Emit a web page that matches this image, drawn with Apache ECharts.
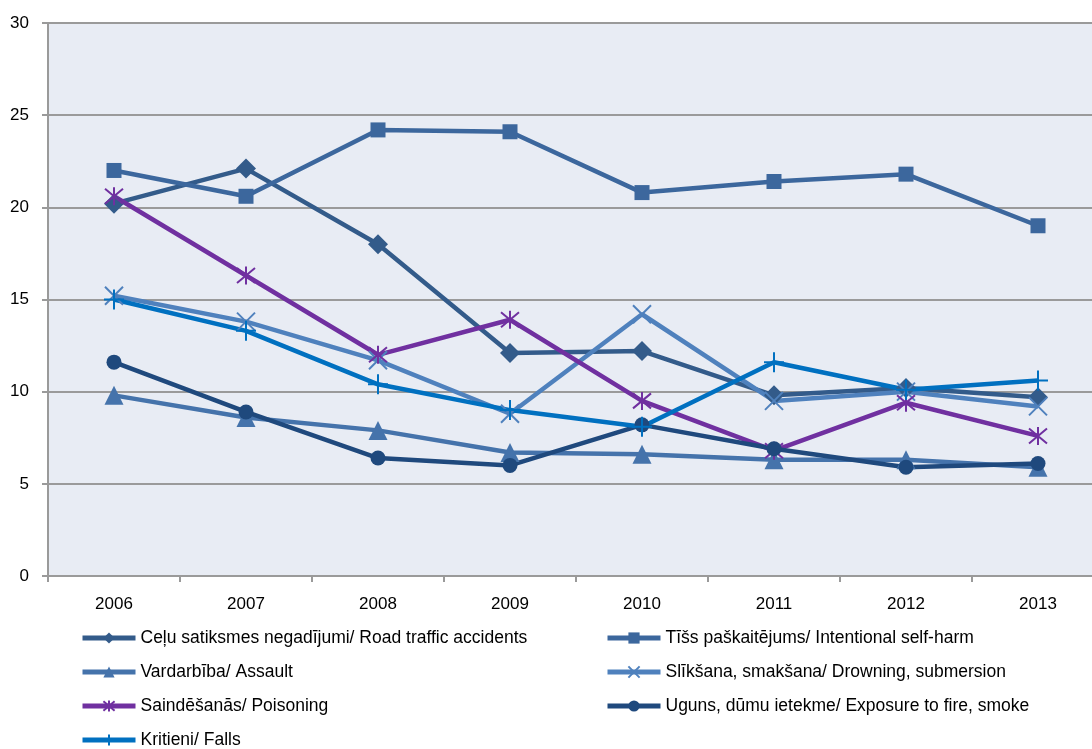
<!DOCTYPE html>
<html>
<head>
<meta charset="utf-8">
<script src="https://cdn.jsdelivr.net/npm/echarts@6/dist/echarts.min.js"></script>
<style>
  html, body { margin: 0; padding: 0; background: #fff; }
  #chart { width: 1092px; height: 749px; }
</style>
</head>
<body>
<div id="chart"></div>
<script>
const years = ['2006', '2007', '2008', '2009', '2010', '2011', '2012', '2013'];

const roadTraffic = [20.2, 22.1, 18.0, 12.1, 12.2, 9.8, 10.2, 9.7];
const selfHarm    = [22.0, 20.6, 24.2, 24.1, 20.8, 21.4, 21.8, 19.0];
const assault     = [9.8, 8.6, 7.9, 6.7, 6.6, 6.3, 6.3, 5.9];
const drowning    = [15.2, 13.8, 11.7, 8.8, 14.2, 9.5, 10.0, 9.2];
const poisoning   = [20.6, 16.3, 12.0, 13.9, 9.5, 6.8, 9.4, 7.6];
const fire        = [11.6, 8.9, 6.4, 6.0, 8.2, 6.9, 5.9, 6.1];
const falls       = [15.0, 13.3, 10.4, 9.0, 8.1, 11.6, 10.1, 10.6];

const names = [
  'Ceļu satiksmes negadījumi/ Road traffic accidents',
  'Tīšs paškaitējums/ Intentional self-harm',
  'Vardarbība/ Assault',
  'Slīkšana, smakšana/ Drowning, submersion',
  'Saindēšanās/ Poisoning',
  'Uguns, dūmu ietekme/ Exposure to fire, smoke',
  'Kritieni/ Falls'
];

const crossPath = 'path://M0,0 L10,10 M10,0 L0,10';
const starPath = 'path://M0,0 L10,10 M10,0 L0,10 M5,-1 L5,11';
const plusPath = 'path://M5,0 L5,10 M0,5 L10,5';

function mk(name, data, color, symbol, size, stroked) {
  return {
    name: name,
    type: 'line',
    data: data,
    symbol: symbol,
    symbolSize: size,
    showAllSymbol: true,
    lineStyle: { color: color, width: 4.5 },
    itemStyle: stroked
      ? { color: color, borderColor: color, borderWidth: 2 }
      : { color: color },
    emphasis: { disabled: true }
  };
}

const chart = echarts.init(document.getElementById('chart'));
const legendText = { fontFamily: 'Liberation Sans, Arial, sans-serif', fontSize: 17.5, color: '#000' };
const legendBase = {
  orient: 'vertical', top: 629, height: 150, padding: 0,
  itemWidth: 53, itemHeight: 14, itemGap: 16,
  lineStyle: { width: 5 },
  textStyle: legendText
};

chart.setOption({
  animation: false,
  textStyle: { fontFamily: 'Liberation Sans, Arial, sans-serif' },
  grid: { left: 48, top: 23, width: 1056, height: 553, show: true, backgroundColor: '#e8ecf4', borderWidth: 0, outerBoundsMode: 'none' },
  legend: [
    Object.assign({}, legendBase, { left: 80, data: [names[0], names[2], names[4], names[6]] }),
    Object.assign({}, legendBase, { left: 605, data: [names[1], names[3], names[5]] })
  ],
  xAxis: {
    type: 'category',
    data: years,
    boundaryGap: true,
    axisLine: { lineStyle: { color: '#9a9a9a', width: 2 } },
    axisTick: { show: true, length: 6, lineStyle: { color: '#9a9a9a', width: 2 } },
    axisLabel: { fontSize: 17, color: '#000', margin: 20 }
  },
  yAxis: {
    type: 'value',
    min: 0, max: 30, interval: 5,
    axisLine: { show: true, lineStyle: { color: '#9a9a9a', width: 2 } },
    axisTick: { show: true, length: 6, lineStyle: { color: '#9a9a9a', width: 2 } },
    splitLine: { lineStyle: { color: '#9a9a9a', width: 2 } },
    axisLabel: { fontSize: 17, color: '#000', margin: 19 }
  },
  series: [
    mk(names[0], roadTraffic, '#335b8a', 'diamond', 20, false),
    mk(names[1], selfHarm, '#3c679d', 'rect', 15, false),
    mk(names[2], assault, '#4573ab', 'triangle', 19, false),
    mk(names[3], drowning, '#4f81bd', crossPath, 18, true),
    mk(names[4], poisoning, '#7030a0', starPath, 18, true),
    mk(names[5], fire, '#1f497d', 'circle', 15, false),
    mk(names[6], falls, '#0070c0', plusPath, 20, true)
  ]
});
</script>
</body>
</html>
